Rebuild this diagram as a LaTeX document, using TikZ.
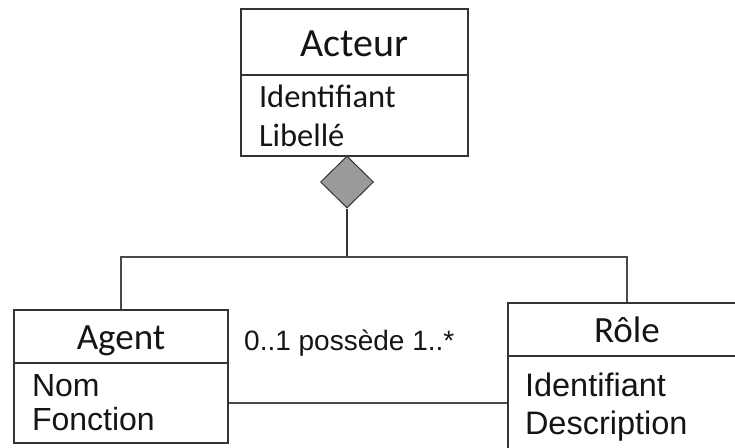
\documentclass[tikz,border=0pt]{standalone}
\usepackage{fontspec}
\newfontfamily\calibri{Carlito}
\newfontfamily\arial{Liberation Sans}
\usepackage{tikz}
\usetikzlibrary{positioning,calc,shapes.geometric}
\definecolor{boxline}{HTML}{333333}
\definecolor{linkline}{HTML}{4A4A4A}
\definecolor{diafill}{HTML}{9A9A9A}
\definecolor{inkcol}{HTML}{151515}
\tikzstyle{umlhead}=[rectangle, draw=boxline, line width=1.5pt, text=inkcol, font={\calibri\fontsize{37}{40}\selectfont}, text height=26pt, text depth=0pt]
\tikzstyle{umlattr}=[rectangle, draw=boxline, line width=1.5pt, text=inkcol, align=left, inner ysep=0pt]

\begin{document}
\begin{tikzpicture}[x=1pt,y=-1pt,link/.style={draw=linkline,line width=1.3pt},agg/.style={diamond,draw=boxline,fill=diafill,line width=1pt,inner sep=0pt,minimum width=53pt,minimum height=52pt}]
\clip (0,0) rectangle (735,447);
\node (acteur) at (354.5,42)[umlhead,minimum width=227pt,minimum height=66pt,font={\calibri\fontsize{40}{42}\selectfont},text height=29pt] {Acteur};
\node (acteurattr) at (354.5,115.5)[umlattr,minimum height=81pt,inner xsep=18pt,text width=191pt,font={\calibri\fontsize{32.5}{39}\selectfont}] {Identifiant\\Libellé};
\node (agg) at (347,182)[agg] {};

\node (agent) at (121,336.5)[umlhead,minimum width=214pt,minimum height=53pt] {Agent};
\node (agentattr) at (121,403)[umlattr,minimum height=80pt,inner xsep=18pt,text width=178pt,font={\arial\fontsize{32}{34}\selectfont}] {Nom\\Fonction};

\node (role) at (627,329.5)[umlhead,minimum width=238pt,minimum height=53pt] {Rôle};
\node (roleattr) at (627,407)[umlattr,minimum height=102pt,inner xsep=17pt,text width=204pt,font={\arial\fontsize{32.5}{38}\selectfont}] {Identifiant\\Description};

\coordinate (j) at (347,257);
\draw[link,draw=boxline,line width=2.2pt] (agg.south) -- (j);
\draw[link] (agent.north) |- (j) -| (role.north);
\draw[link] (agentattr.east) -- (agentattr.east -| roleattr.west);
\node (assoc) at (244,350)[anchor=base west,inner sep=0pt,text=inkcol,font={\arial\fontsize{28}{30}\selectfont}] {0..1 possède 1..*};
\end{tikzpicture}
\end{document}
